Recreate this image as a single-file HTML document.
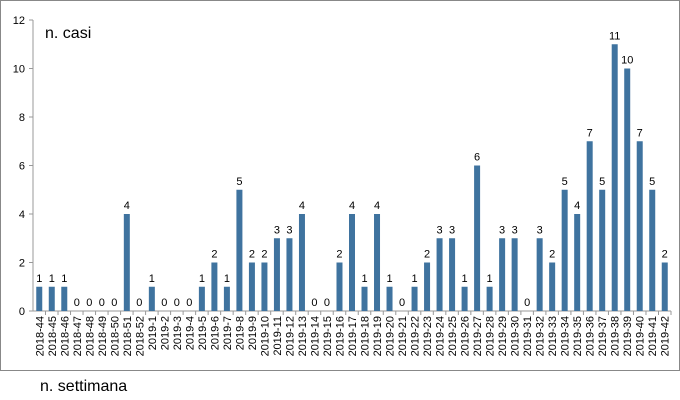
<!DOCTYPE html>
<html><head><meta charset="utf-8"><style>
body{margin:0;background:#fff;}
svg{display:block;font-family:"Liberation Sans",sans-serif;}
</style></head><body>
<svg id="chart" width="680" height="400">
<rect x="0.5" y="0.5" width="679" height="370" fill="#fff" stroke="#888"/>
<text x="45" y="38" font-size="16">n. casi</text>
<text x="40" y="391" font-size="16">n. settimana</text>
<g id="axes"></g><g id="bars"></g>
</svg>
<script>
const categories=["2018-44","2018-45","2018-46","2018-47","2018-48","2018-49","2018-50","2018-51","2018-52"];
for(let i=1;i<=42;i++)categories.push("2019-"+i);
const values=[1,1,1,0,0,0,0,4,0,1,0,0,0,1,2,1,5,2,2,3,3,4,0,0,2,4,1,4,1,0,1,2,3,3,1,6,1,3,3,0,3,2,5,4,7,5,11,10,7,5,2];
const yTicks=[0,2,4,6,8,10,12];
const NS="http://www.w3.org/2000/svg";
const x0=33,x1=671,y0=311,yTop=20,yMax=12;
const band=(x1-x0)/categories.length;
const xs=i=>x0+band*(i+0.5);
const ys=v=>y0-(y0-yTop)*v/yMax;
const axes=document.getElementById('axes'),bars=document.getElementById('bars');
function mk(tag,attrs,parent,txt){const e=document.createElementNS(NS,tag);for(const k in attrs)e.setAttribute(k,attrs[k]);if(txt!==undefined)e.textContent=txt;parent.appendChild(e);return e;}
let l=mk('line',{x1:x0,y1:yTop,x2:x0,y2:y0,stroke:'#999'},axes);


l=mk('line',{x1:x0,y1:y0,x2:x1,y2:y0,stroke:'#999'},axes);


yTicks.forEach(t=>{
 const tk=mk('line',{x1:x0-4,y1:ys(t),x2:x0,y2:ys(t),stroke:'#999'},axes);
 
 
 const tl=mk('text',{x:x0-8,y:ys(t)+4,'font-size':11,'text-anchor':'end'},axes,t);
 
 
});
categories.forEach((c,i)=>{
 const tk=mk('line',{x1:x0+band*(i+1),y1:y0,x2:x0+band*(i+1),y2:y0+4,stroke:'#999'},axes);
 
 
 const cx=xs(i);
 const tl=mk('text',{x:0,y:0,'font-size':11,'text-anchor':'end',transform:`translate(${cx+4},${y0+5}) rotate(-90)`},axes,c);
 
 
 const v=values[i];
 const b=mk('rect',{x:cx-3,y:ys(v),width:6,height:y0-ys(v),fill:'#3f739f'},bars);
 
 
 const vl=mk('text',{x:cx,y:ys(v)-5,'font-size':11,'text-anchor':'middle'},bars,v);
 
 
});
</script>
</body></html>
